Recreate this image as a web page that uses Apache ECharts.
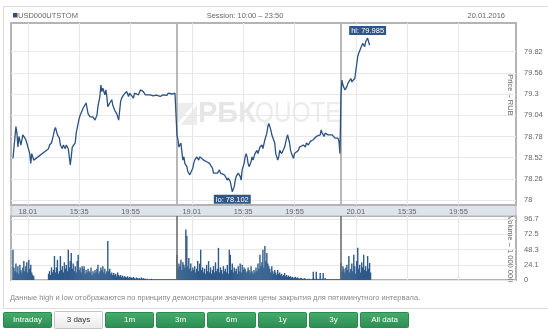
<!DOCTYPE html>
<html>
<head>
<meta charset="utf-8">
<script src="https://cdn.jsdelivr.net/npm/echarts@6/dist/echarts.min.js"></script>
<style>
html,body{margin:0;padding:0;background:#fff;}
#chart{width:548px;height:331px;}
</style>
</head>
<body>
<div id="chart"></div>
<script>
// Trading session 10:00 – 23:50, measured in minutes from the session open
const SESSION_MINUTES = 830;
const tickMinutes = [75, 335, 595];             // 11:15, 15:35, 19:55
const tickLabels = ['18.01', '15:35', '19:55', '19.01', '15:35', '19:55', '20.01', '15:35', '19:55'];
const priceTicks = [78, 78.26, 78.52, 78.78, 79.04, 79.3, 79.56, 79.82];
const volumeTicks = [0, 24.1, 48.3, 72.5, 96.7];
const buttonLabels = ['Intraday', '3 days', '1m', '3m', '6m', '1y', '3y', 'All data'];

// Close prices (minute of session, RUB)
const day1Minutes = [0,15,20,25,30,40,50,60,65,70,85,90,95,105,180,185,195,205,210,215,225,235,240,250,255,265,270,280,285,290,295,300,310,315,320,330,335,340,350,355,365,370,375,380,390,400,405,415,425,430,440,445,450,455,465,470,475,480,490,500,505,515,525,535,540,545,550,560,565,575,585,590,600,610,615,625,635,645,650,660,670,675,695,710,725,745,760,770,780,785,795,805,810,820,825];
const day1Prices = [78.51,78.90,78.82,78.65,78.78,78.675,78.80,78.82,78.74,78.70,78.57,78.45,78.57,78.49,78.63,78.675,78.70,78.80,78.86,78.89,78.80,78.76,78.675,78.63,78.675,78.63,78.675,78.63,78.53,78.43,78.53,78.65,78.63,78.70,78.82,78.94,79.00,79.04,79.02,79.125,79.145,79.19,79.125,79.06,79.02,79.04,79.02,78.98,79.04,79.145,79.27,79.41,79.33,79.37,79.29,79.35,79.27,79.145,79.19,79.23,79.166,79.10,79.06,78.98,79.10,79.21,79.25,79.29,79.31,79.33,79.27,79.31,79.29,79.25,79.31,79.33,79.29,79.35,79.37,79.33,79.29,79.30,79.29,79.276,79.285,79.27,79.29,79.31,79.285,79.31,79.33,79.30,79.29,79.31,79.29];

const day2Minutes = [0,5,10,20,25,30,35,40,50,55,65,75,80,85,90,100,110,115,125,135,140,150,160,165,175,180,185,195,205,215,220,230,240,250,255,260,270,275,280,290,295,300,310,320,325,330,340,345,350,355,360,365,375,380,385,395,405,410,420,430,435,445,455,460,465,475,480,490,495,500,510,515,520,530,540,545,555,560,570,575,580,590,595,605,615,620,630,640,650,655,665,675,680,690,700,705,715,725,730,735,745,750,755,765,775,785,790,800,810,815,820,825];
const day2Prices = [78.80,78.74,78.65,78.70,78.59,78.49,78.53,78.45,78.41,78.35,78.31,78.29,78.39,78.45,78.49,78.53,78.49,78.53,78.51,78.49,78.51,78.47,78.49,78.45,78.47,78.39,78.33,78.35,78.33,78.37,78.33,78.335,78.31,78.29,78.245,78.27,78.225,78.205,78.102,78.165,78.245,78.29,78.33,78.29,78.245,78.37,78.45,78.53,78.57,78.53,78.45,78.41,78.47,78.53,78.49,78.57,78.61,78.57,78.65,78.675,78.63,78.74,78.82,78.90,78.94,78.86,78.80,78.78,78.70,78.57,78.49,78.53,78.61,78.57,78.59,78.65,78.76,78.80,78.70,78.61,78.57,78.51,78.57,78.59,78.61,78.65,78.63,78.675,78.65,78.70,78.675,78.72,78.70,78.74,78.76,78.78,78.76,78.80,78.86,78.82,78.78,78.82,78.84,78.80,78.82,78.80,78.78,78.76,78.74,78.76,78.72,78.57];

const day3Minutes = [0,5,10,15,20,30,35,40,50,55,60,70,80,85,90,95,100,105,110,120,125,135,140,145];
const day3Prices = [79.27,79.47,79.41,79.43,79.35,79.39,79.43,79.45,79.49,79.45,79.47,79.49,79.51,79.76,79.80,79.82,79.86,79.84,79.92,79.88,79.94,79.985,79.94,79.90];

// Volume, millions USD per 5-minute bar (null = no trades)
const day1Volume = [48,20,14,26,12,22,10,24,16,12,20,30,14,22,28,12,32,18,24,12,8,6,
  null,null,null,null,null,null,null,null,null,null,null,null,null,null,
  10,14,8,20,12,16, 38,12,20,32,10,14, 38,16,22,12,28,18, 24,14,48,20,30,43,
  18,26,14,22,12,30, 40,16,20,12,22,18, 22,10,16,12,18,14, 12,20,8,14,10,16,
  12,18,24,10,14,20, 16,22,12,18,10,14, 62,14,18,10,12,8, 11,8,10,6,12,8,
  6,8,5,7,4,6, 5,4,6,3,5,4, 4,3,5,3,2,4, 3,2,3,2,4,2, 3,2,2,1,2,1,
  1,1,2,1,1,1, 1,1,1,1,1,1, 1,1,1,1,1,1, 1,1,1,1,1,1, 1,1,1,1];
const day2Volume = [40,18,26,22,32,16, 28,24,20,80,70,22, 35,18,26,14,20,16, 22,12,18,30,14,26,
  48,16,20,12,18,10, 24,14,30,12,20,10, 16,22,12,28,14,18, 51,12,20,16,10,22,
  14,18,12,24,10,48, 40,16,26,12,20,14, 18,10,22,14,26,12, 24,16,20,18,12,14,
  20,16,12,22,14,10, 16,12,20,14,26,18, 40,22,28,48,20,54, 30,43,26,22,18,12,
  22,14,10,16,12,8, 16,10,12,8,10,6, 8,11,6,8,5,7, 5,6,4,5,3,4,
  5,3,4,3,2,3, 3,2,2,3,2,1, 2,1,2,1,1,2, 13,2,1,13,2,1, 2,11,1,2,11,1,
  3,1,1,1,1,1, 1,1,1,1,1,1, 1,1,1,1];
const day3Volume = [27,14,22,18,12,20,24,16,38,12,18,26,14,40,22,10,30,51,18,24,12,28,20,40,16,22,14,38,18,27,12];

const dayMinutes = [day1Minutes, day2Minutes, day3Minutes];
const dayPrices = [day1Prices, day2Prices, day3Prices];
const dayVolumes = [day1Volume, day2Volume, day3Volume];

const priceData = [];
dayMinutes.forEach((mins, d) => mins.forEach((m, i) => priceData.push([d * SESSION_MINUTES + m, dayPrices[d][i]])));
const volumeData = [];
dayVolumes.forEach((vols, d) => vols.forEach((v, i) => { if (v !== null) volumeData.push([d * SESSION_MINUTES + i * 5, v]); }));

const xTickValues = [];
for (let d = 0; d < 3; d++) tickMinutes.forEach(t => xTickValues.push(d * SESSION_MINUTES + t));
const daySeparators = [SESSION_MINUTES, 2 * SESSION_MINUTES];

let hiIdx = 0, loIdx = 0;
priceData.forEach((p, i) => {
  if (p[1] > priceData[hiIdx][1]) hiIdx = i;
  if (p[1] < priceData[loIdx][1]) loIdx = i;
});

const FONT = 'Liberation Sans';
const TXT = '#666';
const GRID_LINE = '#e8e8e8';
const FRAME = '#b4b4b4';

const chart = echarts.init(document.getElementById('chart'), null, {renderer: 'canvas'});

function xAxisFor(gridIndex, showLabels) {
  return {
    type: 'value', gridIndex, min: -10, max: 2546,
    axisLine: {show: false}, axisTick: {show: false, customValues: xTickValues},
    splitLine: {show: true, lineStyle: {color: GRID_LINE, width: 1}},
    axisLabel: {
      show: showLabels, customValues: xTickValues, margin: 3,
      fontFamily: FONT, fontSize: 7.5, color: TXT,
      formatter: v => tickLabels[xTickValues.indexOf(v)]
    }
  };
}

const buttons = buttonLabels.map((label, i) => {
  const active = i === 1;
  return {
    type: 'group', left: 3 + i * 51, top: active ? 311 : 312,
    children: [
      {type: 'rect', shape: {x: 0, y: 0, width: 48, height: active ? 17 : 15, r: 1},
        style: active
          ? {fill: new echarts.graphic.LinearGradient(0, 0, 0, 1, [{offset: 0, color: '#ffffff'}, {offset: 1, color: '#e9e9e9'}]), stroke: '#c4c4c4', lineWidth: 1}
          : {fill: new echarts.graphic.LinearGradient(0, 0, 0, 1, [{offset: 0, color: '#47ad6c'}, {offset: 1, color: '#2c8c52'}]), stroke: '#2a8a50', lineWidth: 1}},
      {type: 'text', x: 24, y: active ? 8.5 : 7.5,
        style: {text: label, fill: active ? '#333' : '#fff', font: '8px "' + FONT + '"', align: 'center', verticalAlign: 'middle'}}
    ]
  };
});

chart.setOption({
  animation: false,
  backgroundColor: '#fff',
  grid: [
    {left: 11, right: 32, top: 23, height: 182, show: true, borderColor: FRAME, borderWidth: 2, backgroundColor: 'transparent'},
    {left: 11, right: 32, top: 216, height: 64, show: true, borderColor: FRAME, borderWidth: 2, backgroundColor: 'transparent'}
  ],
  xAxis: [xAxisFor(0, true), xAxisFor(1, false)],
  yAxis: [
    {type: 'value', gridIndex: 0, position: 'right', min: 77.94, max: 80.17,
      axisLine: {show: false}, axisTick: {show: false, customValues: priceTicks},
      splitLine: {show: true, lineStyle: {color: GRID_LINE}},
      axisLabel: {customValues: priceTicks, margin: 8, fontFamily: FONT, fontSize: 7.5, color: TXT}},
    {type: 'value', gridIndex: 1, position: 'right', min: 0, max: 101.5,
      axisLine: {show: false}, axisTick: {show: false, customValues: volumeTicks},
      splitLine: {show: true, lineStyle: {color: GRID_LINE}},
      axisLabel: {customValues: volumeTicks, margin: 8, fontFamily: FONT, fontSize: 7.5, color: TXT}}
  ],
  graphic: [
    // panel borders
    {type: 'line', shape: {x1: 3, y1: 6.5, x2: 548, y2: 6.5}, style: {stroke: '#dcdcdc', lineWidth: 1}},
    {type: 'line', shape: {x1: 3.5, y1: 6, x2: 3.5, y2: 309}, style: {stroke: '#dcdcdc', lineWidth: 1}},
    {type: 'line', shape: {x1: 3, y1: 308.5, x2: 548, y2: 308.5}, style: {stroke: '#dcdcdc', lineWidth: 1}},
    // header
    {type: 'rect', shape: {x: 13, y: 13, width: 4.5, height: 4.5}, style: {fill: '#2f4f7f'}},
    {type: 'text', x: 18, y: 15.5, style: {text: 'USD000UTSTOM', font: '7.5px "' + FONT + '"', fill: TXT, verticalAlign: 'middle'}},
    {type: 'text', x: 245, y: 15.5, style: {text: 'Session: 10:00 \u2013 23:50', font: '7.5px "' + FONT + '"', fill: TXT, align: 'center', verticalAlign: 'middle'}},
    {type: 'text', x: 505, y: 15.5, style: {text: '20.01.2016', font: '7.5px "' + FONT + '"', fill: TXT, align: 'right', verticalAlign: 'middle'}},
    // watermark
    {type: 'group', z: 1, silent: true, children: [
      {type: 'rect', shape: {x: 178, y: 103, width: 19, height: 22}, style: {fill: '#ececec'}},
      {type: 'line', shape: {x1: 176, y1: 128, x2: 199, y2: 100}, style: {stroke: '#fff', lineWidth: 3}},
      {type: 'text', x: 198, y: 114, style: {text: 'РБК', font: 'bold 29px "' + FONT + '"', fill: '#e6e6e6', verticalAlign: 'middle'}},
      {type: 'text', x: 255, y: 114, scaleX: 0.84, style: {text: 'QUOTE', font: '29px "' + FONT + '"', fill: '#ececec', verticalAlign: 'middle'}}
    ]},
    // band holding the time labels
    {type: 'rect', z: 0, shape: {x: 11, y: 205.5, width: 505, height: 10.5}, style: {fill: '#dde4eb', stroke: FRAME, lineWidth: 1}},
    // axis titles
    {type: 'text', x: 510, y: 95, rotation: -Math.PI / 2, style: {text: 'Price \u2013 RUB', font: '7.5px "' + FONT + '"', fill: TXT, align: 'center', verticalAlign: 'middle'}},
    {type: 'text', x: 510, y: 249, rotation: -Math.PI / 2, style: {text: 'Volume \u2013 1 000 000', font: '7.5px "' + FONT + '"', fill: TXT, align: 'center', verticalAlign: 'middle'}},
    // note
    {type: 'text', x: 10, y: 298, style: {text: 'Данные high и low отображаются по принципу демонстрации значения цены закрытия для пятиминутного интервала.', font: '7.5px "' + FONT + '"', fill: '#8a8a8a', verticalAlign: 'middle'}}
  ].concat(buttons),
  series: [
    {
      type: 'line', xAxisIndex: 0, yAxisIndex: 0, data: priceData,
      showSymbol: false, symbol: 'none', z: 3,
      lineStyle: {color: '#2c5282', width: 1.3},
      markLine: {
        silent: true, symbol: ['none', 'none'], label: {show: false}, z: 2,
        lineStyle: {color: '#b8b8b8', width: 2, type: 'solid'},
        data: daySeparators.map(x => ({xAxis: x}))
      },
      markPoint: {
        symbol: 'rect', symbolSize: 0, silent: true,
        label: {
          show: true, color: '#fff', backgroundColor: '#2e5687', fontFamily: FONT, fontSize: 7.5,
          padding: [1, 2, 0, 2], distance: 3
        },
        data: [
          {coord: priceData[hiIdx], value: priceData[hiIdx][1], label: {position: 'top', formatter: p => 'hi: ' + p.value}},
          {coord: priceData[loIdx], value: priceData[loIdx][1], label: {position: 'bottom', formatter: p => 'lo: ' + p.value}}
        ]
      }
    },
    {
      type: 'bar', xAxisIndex: 1, yAxisIndex: 1, data: volumeData,
      barWidth: 1.4, itemStyle: {color: '#2d5a8a'},
      markLine: {
        silent: true, symbol: ['none', 'none'], label: {show: false},
        lineStyle: {color: '#666', width: 1.5, type: 'solid'},
        data: daySeparators.map(x => ({xAxis: x}))
      }
    }
  ]
});
</script>
</body>
</html>
